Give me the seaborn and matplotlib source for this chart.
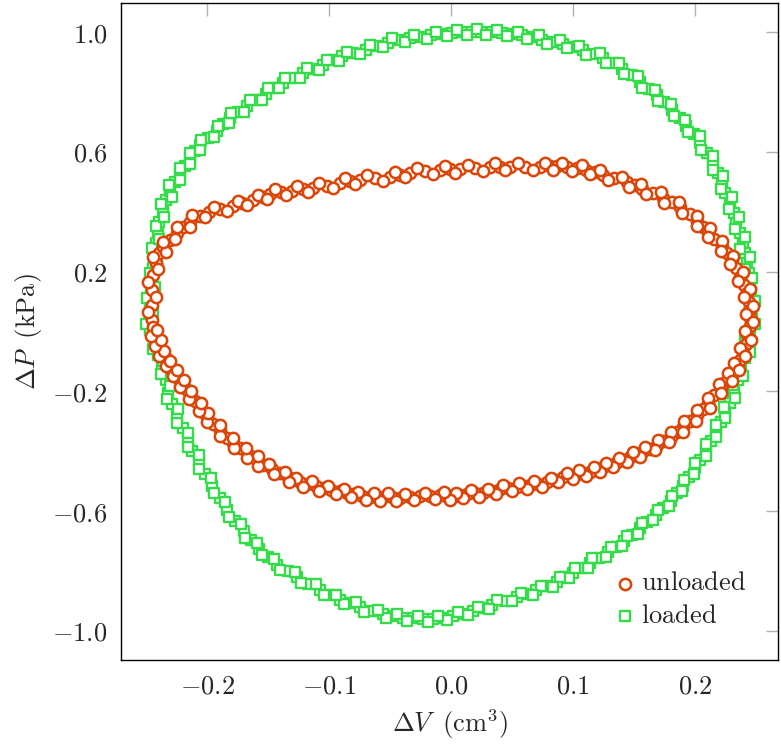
import numpy as np
import pandas as pd
import matplotlib
matplotlib.use("Agg")
import matplotlib.pyplot as plt
from matplotlib.ticker import FuncFormatter
import seaborn as sns

# ---- data (dV in cm^3, dP in kPa) ----
# each loop was recorded over more than one cycle, so each has two passes (a, b)
unloaded_dv_a = [
    -0.245, -0.245, -0.245, -0.244, -0.242, -0.239, -0.236, -0.230, -0.225, -0.220,
    -0.214, -0.206, -0.198, -0.189, -0.179, -0.171, -0.162, -0.154, -0.148, -0.139,
    -0.130, -0.121, -0.113, -0.102, -0.091, -0.083, -0.075, -0.062, -0.050, -0.042,
    -0.034, -0.021, -0.009, -0.001, 0.007, 0.020, 0.032, 0.040, 0.048, 0.061,
    0.073, 0.081, 0.087, 0.095, 0.103, 0.111, 0.118, 0.125, 0.134, 0.144,
    0.151, 0.157, 0.166, 0.174, 0.181, 0.188, 0.196, 0.202, 0.207, 0.211,
    0.216, 0.222, 0.226, 0.230, 0.234, 0.237, 0.240, 0.243, 0.244, 0.245,
    0.245, 0.245, 0.243, 0.242, 0.239, 0.237, 0.234, 0.231, 0.229, 0.225,
    0.221, 0.216, 0.211, 0.207, 0.202, 0.196, 0.190, 0.185, 0.180, 0.174,
    0.169, 0.163, 0.157, 0.152, 0.147, 0.141, 0.136, 0.130, 0.125, 0.120,
    0.114, 0.108, 0.103, 0.098, 0.092, 0.085, 0.079, 0.071, 0.065, 0.059,
    0.054, 0.047, 0.040, 0.034, 0.026, 0.020, 0.013, 0.007, 0.002, -0.004,
    -0.009, -0.017, -0.025, -0.034, -0.042, -0.048, -0.056, -0.061, -0.066, -0.073,
    -0.080, -0.085, -0.091, -0.098, -0.105, -0.111, -0.118, -0.124, -0.130, -0.134,
    -0.140, -0.147, -0.154, -0.158, -0.162, -0.167, -0.173, -0.179, -0.184, -0.189,
    -0.195, -0.200, -0.203, -0.206, -0.210, -0.214, -0.217, -0.220, -0.224, -0.226,
    -0.230, -0.232, -0.234, -0.237, -0.239, -0.240, -0.242, -0.243, -0.244,
]
unloaded_dp_a = [
    0.038, 0.089, 0.139, 0.189, 0.229, 0.262, 0.282, 0.306, 0.329, 0.349,
    0.366, 0.386, 0.399, 0.409, 0.419, 0.429, 0.439, 0.449, 0.459, 0.466,
    0.469, 0.476, 0.479, 0.486, 0.496, 0.503, 0.506, 0.513, 0.516, 0.523,
    0.530, 0.536, 0.540, 0.543, 0.543, 0.546, 0.550, 0.550, 0.550, 0.550,
    0.550, 0.553, 0.553, 0.550, 0.546, 0.540, 0.533, 0.523, 0.513, 0.499,
    0.489, 0.476, 0.463, 0.446, 0.433, 0.416, 0.393, 0.366, 0.349, 0.332,
    0.309, 0.282, 0.262, 0.239, 0.212, 0.182, 0.155, 0.129, 0.099, 0.072,
    0.045, 0.018, -0.012, -0.042, -0.068, -0.095, -0.119, -0.135, -0.152, -0.169,
    -0.189, -0.212, -0.239, -0.259, -0.279, -0.299, -0.319, -0.336, -0.352, -0.366,
    -0.379, -0.393, -0.403, -0.413, -0.419, -0.429, -0.436, -0.446, -0.453, -0.463,
    -0.469, -0.473, -0.476, -0.483, -0.486, -0.496, -0.503, -0.510, -0.513, -0.516,
    -0.520, -0.523, -0.526, -0.533, -0.540, -0.540, -0.543, -0.546, -0.553, -0.550,
    -0.546, -0.550, -0.550, -0.553, -0.556, -0.553, -0.553, -0.553, -0.553, -0.550,
    -0.543, -0.540, -0.533, -0.530, -0.523, -0.516, -0.510, -0.503, -0.496, -0.486,
    -0.473, -0.459, -0.446, -0.433, -0.419, -0.406, -0.389, -0.373, -0.356, -0.329,
    -0.309, -0.286, -0.269, -0.252, -0.232, -0.212, -0.192, -0.172, -0.155, -0.139,
    -0.122, -0.105, -0.089, -0.072, -0.055, -0.038, -0.022, -0.005, 0.015,
]
unloaded_dv_b = [
    -0.248, -0.242, -0.248, -0.240, -0.244, -0.234, -0.236, -0.226, -0.225, -0.214,
    -0.212, -0.202, -0.194, -0.184, -0.175, -0.167, -0.158, -0.151, -0.144, -0.135,
    -0.126, -0.117, -0.108, -0.097, -0.087, -0.079, -0.069, -0.056, -0.046, -0.038,
    -0.028, -0.015, -0.005, 0.003, 0.014, 0.026, 0.036, 0.044, 0.055, 0.067,
    0.077, 0.084, 0.091, 0.099, 0.107, 0.114, 0.122, 0.129, 0.140, 0.146,
    0.156, 0.160, 0.172, 0.175, 0.187, 0.189, 0.202, 0.202, 0.212, 0.211,
    0.222, 0.221, 0.231, 0.229, 0.239, 0.235, 0.245, 0.240, 0.248, 0.242,
    0.248, 0.241, 0.246, 0.237, 0.241, 0.232, 0.236, 0.227, 0.230, 0.220,
    0.221, 0.211, 0.212, 0.202, 0.201, 0.191, 0.190, 0.180, 0.179, 0.170,
    0.167, 0.159, 0.155, 0.149, 0.144, 0.138, 0.133, 0.127, 0.122, 0.117,
    0.111, 0.105, 0.100, 0.095, 0.088, 0.082, 0.075, 0.068, 0.062, 0.056,
    0.050, 0.043, 0.037, 0.030, 0.023, 0.016, 0.010, 0.004, -0.001, -0.006,
    -0.013, -0.021, -0.030, -0.038, -0.045, -0.052, -0.058, -0.063, -0.070, -0.076,
    -0.082, -0.088, -0.094, -0.101, -0.108, -0.114, -0.121, -0.127, -0.133, -0.136,
    -0.145, -0.149, -0.158, -0.158, -0.167, -0.168, -0.178, -0.179, -0.189, -0.189,
    -0.200, -0.199, -0.207, -0.205, -0.215, -0.213, -0.222, -0.219, -0.228, -0.225,
    -0.234, -0.230, -0.239, -0.235, -0.243, -0.238, -0.246, -0.241,
]
unloaded_dp_b = [
    0.064, 0.114, 0.164, 0.209, 0.250, 0.267, 0.300, 0.310, 0.348, 0.350,
    0.388, 0.381, 0.416, 0.402, 0.436, 0.422, 0.456, 0.442, 0.475, 0.456,
    0.485, 0.466, 0.495, 0.479, 0.512, 0.493, 0.522, 0.503, 0.532, 0.515,
    0.545, 0.526, 0.554, 0.531, 0.557, 0.536, 0.562, 0.538, 0.562, 0.538,
    0.564, 0.541, 0.564, 0.536, 0.555, 0.525, 0.540, 0.506, 0.517, 0.483,
    0.493, 0.459, 0.465, 0.430, 0.434, 0.396, 0.387, 0.351, 0.347, 0.315,
    0.301, 0.268, 0.253, 0.224, 0.198, 0.168, 0.142, 0.114, 0.086, 0.059,
    0.032, 0.003, -0.027, -0.055, -0.082, -0.105, -0.130, -0.140, -0.165, -0.174,
    -0.206, -0.221, -0.256, -0.262, -0.298, -0.300, -0.337, -0.335, -0.369, -0.362,
    -0.397, -0.387, -0.420, -0.404, -0.436, -0.421, -0.453, -0.438, -0.470, -0.454,
    -0.483, -0.463, -0.492, -0.473, -0.503, -0.488, -0.519, -0.500, -0.527, -0.506,
    -0.534, -0.513, -0.542, -0.525, -0.552, -0.530, -0.557, -0.538, -0.564, -0.536,
    -0.560, -0.538, -0.564, -0.543, -0.567, -0.541, -0.565, -0.541, -0.564, -0.535,
    -0.554, -0.525, -0.544, -0.515, -0.532, -0.501, -0.519, -0.488, -0.503, -0.469,
    -0.477, -0.442, -0.450, -0.417, -0.422, -0.389, -0.390, -0.357, -0.349, -0.313,
    -0.303, -0.272, -0.265, -0.238, -0.225, -0.199, -0.184, -0.161, -0.148, -0.129,
    -0.114, -0.097, -0.081, -0.064, -0.047, -0.030, -0.014, 0.005,
]

loaded_dv_a = [
    -0.247, -0.247, -0.247, -0.246, -0.245, -0.244, -0.243, -0.242, -0.240, -0.239,
    -0.236, -0.234, -0.230, -0.226, -0.222, -0.218, -0.214, -0.210, -0.206, -0.199,
    -0.192, -0.187, -0.181, -0.175, -0.167, -0.160, -0.152, -0.145, -0.138, -0.130,
    -0.121, -0.113, -0.105, -0.097, -0.089, -0.080, -0.070, -0.061, -0.052, -0.043,
    -0.034, -0.025, -0.016, -0.007, 0.001, 0.009, 0.017, 0.025, 0.034, 0.042,
    0.050, 0.058, 0.067, 0.075, 0.084, 0.092, 0.100, 0.108, 0.116, 0.125,
    0.133, 0.140, 0.148, 0.155, 0.162, 0.169, 0.175, 0.181, 0.188, 0.193,
    0.199, 0.204, 0.210, 0.215, 0.219, 0.222, 0.225, 0.229, 0.232, 0.234,
    0.237, 0.239, 0.241, 0.243, 0.244, 0.245, 0.246, 0.247, 0.247, 0.245,
    0.243, 0.241, 0.238, 0.235, 0.232, 0.229, 0.225, 0.221, 0.217, 0.213,
    0.209, 0.204, 0.200, 0.195, 0.190, 0.185, 0.180, 0.174, 0.168, 0.161,
    0.155, 0.148, 0.142, 0.135, 0.129, 0.121, 0.114, 0.107, 0.100, 0.093,
    0.087, 0.079, 0.070, 0.062, 0.054, 0.044, 0.034, 0.026, 0.018, 0.010,
    0.002, -0.007, -0.015, -0.023, -0.031, -0.039, -0.048, -0.056, -0.065, -0.075,
    -0.083, -0.091, -0.099, -0.107, -0.117, -0.126, -0.134, -0.143, -0.150, -0.157,
    -0.164, -0.170, -0.177, -0.184, -0.189, -0.196, -0.202, -0.207, -0.212, -0.216,
    -0.220, -0.225, -0.229, -0.232, -0.234, -0.237, -0.240, -0.243,
]
loaded_dp_a = [
    0.005, 0.045, 0.089, 0.132, 0.172, 0.212, 0.256, 0.296, 0.332, 0.366,
    0.406, 0.439, 0.469, 0.499, 0.526, 0.553, 0.580, 0.603, 0.623, 0.646,
    0.670, 0.693, 0.713, 0.733, 0.753, 0.773, 0.794, 0.814, 0.830, 0.847,
    0.864, 0.877, 0.890, 0.907, 0.920, 0.930, 0.941, 0.954, 0.964, 0.974,
    0.981, 0.984, 0.991, 0.994, 0.997, 1.001, 1.001, 1.001, 1.001, 0.997,
    0.994, 0.991, 0.984, 0.974, 0.967, 0.961, 0.951, 0.941, 0.927, 0.914,
    0.897, 0.877, 0.857, 0.834, 0.810, 0.790, 0.767, 0.740, 0.713, 0.687,
    0.660, 0.630, 0.596, 0.563, 0.530, 0.496, 0.463, 0.429, 0.396, 0.363,
    0.329, 0.296, 0.262, 0.229, 0.195, 0.162, 0.122, 0.082, 0.042, 0.005,
    -0.045, -0.089, -0.129, -0.162, -0.202, -0.239, -0.269, -0.302, -0.332, -0.366,
    -0.396, -0.429, -0.456, -0.486, -0.516, -0.540, -0.566, -0.590, -0.613, -0.636,
    -0.657, -0.680, -0.700, -0.720, -0.737, -0.757, -0.773, -0.790, -0.807, -0.820,
    -0.837, -0.850, -0.864, -0.877, -0.887, -0.900, -0.914, -0.924, -0.934, -0.944,
    -0.951, -0.957, -0.961, -0.961, -0.957, -0.957, -0.951, -0.944, -0.934, -0.920,
    -0.907, -0.897, -0.880, -0.864, -0.844, -0.820, -0.800, -0.780, -0.753, -0.727,
    -0.697, -0.667, -0.633, -0.596, -0.556, -0.516, -0.476, -0.436, -0.399, -0.363,
    -0.322, -0.282, -0.242, -0.205, -0.162, -0.122, -0.079, -0.038,
]
loaded_dv_b = [
    -0.250, -0.244, -0.249, -0.243, -0.247, -0.241, -0.245, -0.239, -0.242, -0.235,
    -0.238, -0.229, -0.231, -0.222, -0.222, -0.214, -0.214, -0.206, -0.205, -0.194,
    -0.191, -0.182, -0.180, -0.170, -0.165, -0.155, -0.150, -0.141, -0.136, -0.124,
    -0.118, -0.108, -0.102, -0.092, -0.085, -0.075, -0.066, -0.056, -0.048, -0.038,
    -0.030, -0.020, -0.012, -0.003, 0.005, 0.013, 0.021, 0.029, 0.038, 0.046,
    0.055, 0.062, 0.072, 0.079, 0.089, 0.095, 0.105, 0.111, 0.122, 0.127,
    0.138, 0.142, 0.153, 0.157, 0.167, 0.170, 0.180, 0.183, 0.192, 0.194,
    0.204, 0.205, 0.215, 0.215, 0.223, 0.221, 0.230, 0.228, 0.236, 0.233,
    0.241, 0.237, 0.245, 0.241, 0.247, 0.243, 0.249, 0.244, 0.249, 0.241,
    0.245, 0.237, 0.239, 0.231, 0.233, 0.224, 0.225, 0.217, 0.217, 0.209,
    0.209, 0.200, 0.199, 0.191, 0.189, 0.181, 0.179, 0.170, 0.166, 0.157,
    0.153, 0.144, 0.140, 0.131, 0.127, 0.116, 0.112, 0.102, 0.097, 0.089,
    0.084, 0.074, 0.067, 0.057, 0.050, 0.038, 0.031, 0.022, 0.014, 0.006,
    -0.003, -0.011, -0.019, -0.027, -0.036, -0.044, -0.053, -0.060, -0.071, -0.078,
    -0.088, -0.094, -0.104, -0.111, -0.123, -0.128, -0.140, -0.145, -0.155, -0.159,
    -0.169, -0.172, -0.182, -0.185, -0.194, -0.197, -0.207, -0.207, -0.216, -0.216,
    -0.225, -0.224, -0.233, -0.230, -0.238, -0.236, -0.244, -0.242,
]
loaded_dp_b = [
    0.025, 0.066, 0.112, 0.150, 0.194, 0.232, 0.280, 0.310, 0.353, 0.381,
    0.427, 0.449, 0.490, 0.507, 0.545, 0.561, 0.597, 0.607, 0.641, 0.651,
    0.688, 0.696, 0.731, 0.735, 0.772, 0.775, 0.814, 0.814, 0.848, 0.847,
    0.879, 0.875, 0.907, 0.904, 0.934, 0.926, 0.957, 0.950, 0.979, 0.967,
    0.992, 0.978, 1.002, 0.986, 1.009, 0.991, 1.011, 0.991, 1.009, 0.986,
    1.002, 0.978, 0.989, 0.961, 0.973, 0.946, 0.955, 0.925, 0.929, 0.896,
    0.896, 0.859, 0.854, 0.814, 0.808, 0.771, 0.761, 0.719, 0.707, 0.667,
    0.652, 0.607, 0.585, 0.541, 0.518, 0.475, 0.450, 0.408, 0.383, 0.343,
    0.316, 0.276, 0.248, 0.210, 0.180, 0.140, 0.103, 0.061, 0.024, -0.020,
    -0.067, -0.108, -0.147, -0.180, -0.223, -0.252, -0.288, -0.314, -0.352, -0.377,
    -0.417, -0.438, -0.476, -0.496, -0.533, -0.548, -0.584, -0.595, -0.631, -0.640,
    -0.675, -0.683, -0.717, -0.721, -0.755, -0.757, -0.789, -0.791, -0.822, -0.820,
    -0.852, -0.849, -0.879, -0.873, -0.902, -0.898, -0.928, -0.920, -0.948, -0.938,
    -0.964, -0.950, -0.970, -0.950, -0.967, -0.945, -0.957, -0.930, -0.936, -0.904,
    -0.911, -0.880, -0.880, -0.845, -0.840, -0.802, -0.798, -0.759, -0.747, -0.705,
    -0.689, -0.644, -0.621, -0.570, -0.541, -0.491, -0.460, -0.413, -0.385, -0.339,
    -0.305, -0.259, -0.226, -0.182, -0.143, -0.099, -0.059, -0.016,
]

x_ticks = [-0.2, -0.1, 0.0, 0.1, 0.2]
y_ticks = [1.0, 0.6, 0.2, -0.2, -0.6, -1.0]

red = "#dc4508"
green = "#35dc4a"

df_unloaded = pd.DataFrame({"dV": unloaded_dv_a + unloaded_dv_b,
                            "dP": unloaded_dp_a + unloaded_dp_b})
df_loaded = pd.DataFrame({"dV": loaded_dv_a + loaded_dv_b,
                          "dP": loaded_dp_a + loaded_dp_b})

sns.set_theme(style="white")
plt.rcParams["mathtext.fontset"] = "cm"
plt.rcParams["font.family"] = ["DejaVu Serif"]

fig = plt.figure(figsize=(7.81, 7.48), dpi=100)
ax = fig.add_axes([0.155, 0.1176, 0.841, 0.8784])

sns.scatterplot(data=df_loaded, x="dV", y="dP", marker="s", s=58,
                facecolor="white", edgecolor=green, linewidth=1.7,
                label=r"$\mathrm{loaded}$", ax=ax, zorder=2)
sns.scatterplot(data=df_unloaded, x="dV", y="dP", marker="o", s=66,
                facecolor="white", edgecolor=red, linewidth=1.8,
                label=r"$\mathrm{unloaded}$", ax=ax, zorder=3)

ax.set_xlim(-0.2705, 0.268)
ax.set_ylim(-1.0976, 1.0976)
ax.set_xticks(x_ticks)
ax.set_yticks(y_ticks)
fmt = FuncFormatter(lambda v, pos: r"$%.1f$" % v)
ax.xaxis.set_major_formatter(fmt)
ax.yaxis.set_major_formatter(fmt)
ax.tick_params(direction="in", length=9, width=1, color="#b0b0b0",
               top=True, right=True, labelsize=19, pad=10)

for sp in ax.spines.values():
    sp.set_color("black")
    sp.set_linewidth(1.0)

ax.set_xlabel(r"$\Delta V\;\;(\mathrm{cm}^3)$", fontsize=19, labelpad=6)
ax.set_ylabel(r"$\Delta P\;\;(\mathrm{kPa})$", fontsize=19, labelpad=6)

handles, labels = ax.get_legend_handles_labels()
ax.legend(handles[::-1], labels[::-1], loc="lower right", frameon=False,
          fontsize=19, handletextpad=0.2, labelspacing=0.3,
          borderaxespad=0.8, handlelength=0.8)

fig.savefig("out.png", dpi=100)
